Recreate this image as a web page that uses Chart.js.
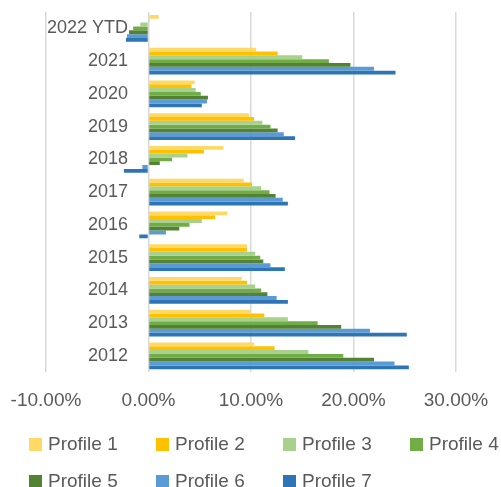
<!DOCTYPE html>
<html>
<head>
<meta charset="utf-8">
<script src="https://cdn.jsdelivr.net/npm/chart.js@4/dist/chart.umd.min.js"></script>
<style>
  html, body { margin: 0; padding: 0; background: #ffffff; }
  #wrap { position: relative; width: 501px; height: 487px; }
  #wrap canvas { position: absolute; left: 0; top: 0; }
  #legend { position: absolute; left: 29px; top: 431px; display: grid;
    grid-template-columns: repeat(4, 127px); grid-auto-rows: 37px;
    font-family: "Liberation Sans", Arial, sans-serif; font-size: 19px; color: #595959; }
  .item { display: flex; align-items: center; height: 26px; white-space: nowrap; }
  .box { width: 13px; height: 13px; margin-right: 6px; flex: none; }
</style>
</head>
<body>
<div id="wrap">
  <canvas id="c" width="501" height="487"></canvas>
  <div id="legend"></div>
</div>
<script>
const categories = ["2022 YTD", "2021", "2020", "2019", "2018", "2017", "2016", "2015", "2014", "2013", "2012"];
const seriesNames = ["Profile 1", "Profile 2", "Profile 3", "Profile 4", "Profile 5", "Profile 6", "Profile 7"];
const colors = ["#FFD966", "#FFC000", "#A9D18E", "#70AD47", "#548235", "#5B9BD5", "#2E75B6"];
const profile1 = [1.0, 10.5, 4.5, 9.8, 7.3, 9.3, 7.7, 9.6, 9.1, 9.9, 10.3];
const profile2 = [0.1, 12.6, 4.2, 10.3, 5.4, 10.1, 6.5, 9.6, 9.6, 11.3, 12.3];
const profile3 = [-0.8, 15.0, 4.6, 11.1, 3.8, 11.0, 5.2, 10.4, 10.4, 13.6, 15.6];
const profile4 = [-1.5, 17.6, 5.1, 11.9, 2.3, 11.8, 4.0, 10.9, 11.0, 16.5, 19.0];
const profile5 = [-1.9, 19.7, 5.8, 12.6, 1.1, 12.4, 3.0, 11.2, 11.6, 18.8, 22.0];
const profile6 = [-2.1, 22.0, 5.7, 13.2, -0.6, 13.1, 1.7, 11.9, 12.5, 21.6, 24.0];
const profile7 = [-2.2, 24.1, 5.2, 14.3, -2.4, 13.6, -0.9, 13.3, 13.6, 25.2, 25.4];
const xTicks = [-10, 0, 10, 20, 30];

const seriesValues = [profile1, profile2, profile3, profile4, profile5, profile6, profile7];
const FONT = "'Liberation Sans', Arial, sans-serif";
const TEXT = "#595959";
const GRID = "#d9d9d9";

const chart = new Chart(document.getElementById("c"), {
  type: "bar",
  data: {
    labels: categories,
    datasets: seriesNames.map((n, i) => ({
      label: n,
      data: seriesValues[i],
      backgroundColor: colors[i],
      borderWidth: 0,
      categoryPercentage: 0.82,
      barPercentage: 1.0
    }))
  },
  options: {
    indexAxis: "y",
    responsive: false,
    animation: false,
    devicePixelRatio: 1,
    layout: { padding: { top: 12, left: 46, right: 45, bottom: 75 } },
    plugins: { legend: { display: false }, tooltip: { enabled: false } },
    scales: {
      x: {
        min: xTicks[0], max: xTicks[xTicks.length - 1],
        afterBuildTicks: (s) => { s.ticks = xTicks.map(v => ({ value: v })); },
        grid: { color: GRID, lineWidth: 1.5, drawTicks: true, tickLength: 17, tickColor: "rgba(0,0,0,0)" },
        border: { display: false },
        ticks: { padding: 0, color: TEXT, font: { family: FONT, size: 19 },
          callback: (v) => Number(v).toFixed(2) + "%" }
      },
      y: {
        position: { x: -2.0 },
        grid: { drawOnChartArea: false, drawTicks: false },
        border: { display: false },
        ticks: { padding: 0, color: TEXT, font: { family: FONT, size: 18 } }
      }
    }
  }
});

const legend = document.getElementById("legend");
chart.data.datasets.forEach((ds) => {
  const it = document.createElement("div");
  it.className = "item";
  const b = document.createElement("span");
  b.className = "box";
  b.style.background = ds.backgroundColor;
  const t = document.createElement("span");
  t.textContent = ds.label;
  it.appendChild(b); it.appendChild(t);
  legend.appendChild(it);
});
</script>
</body>
</html>
